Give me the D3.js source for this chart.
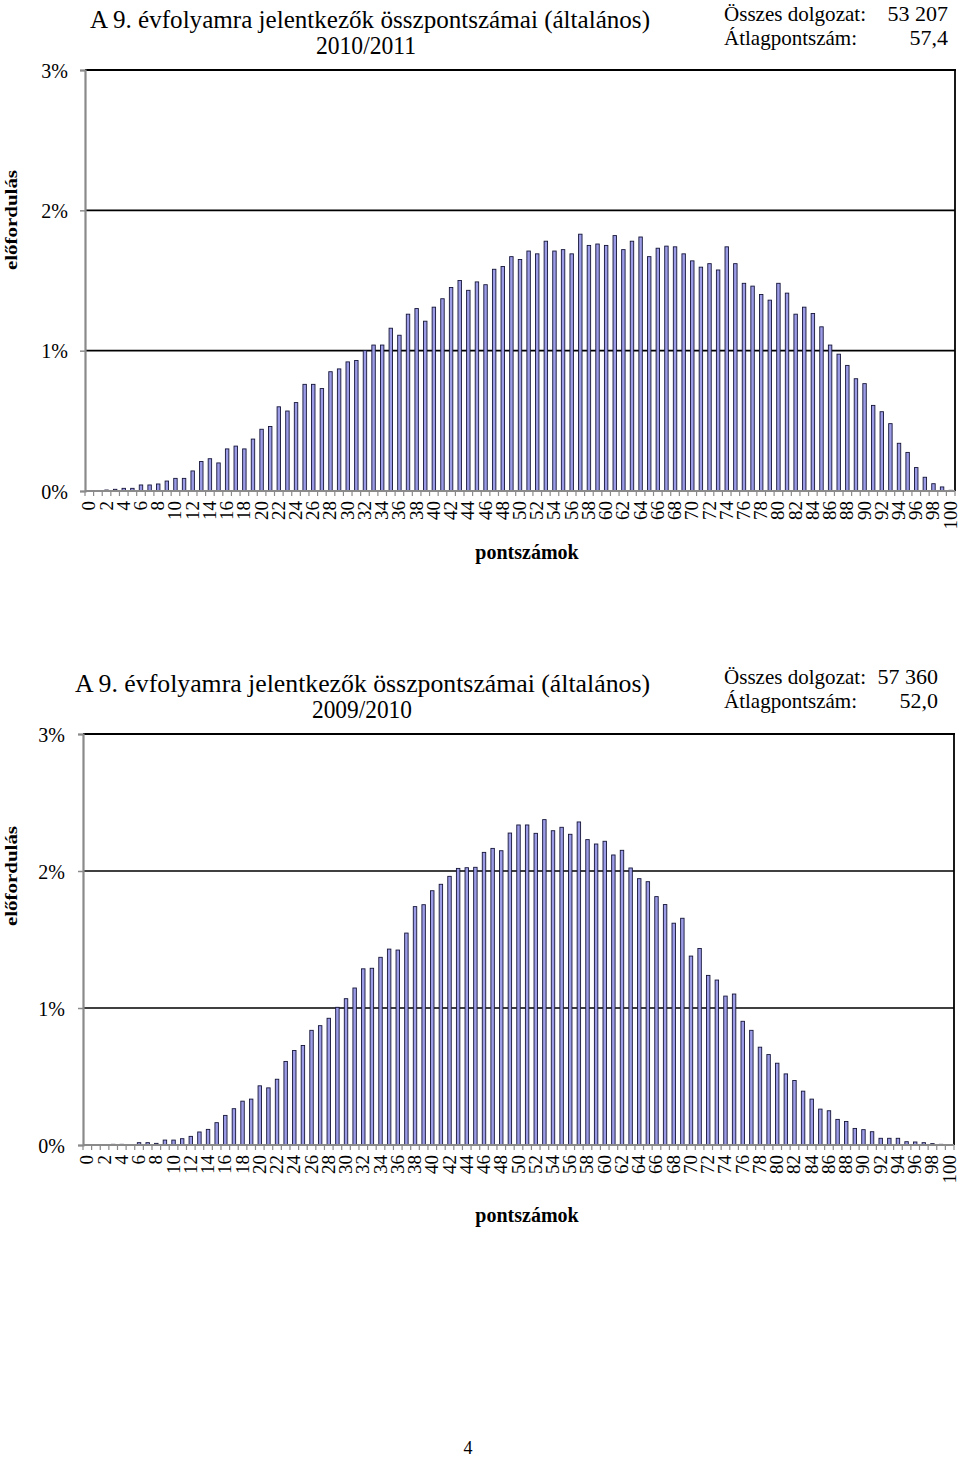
<!DOCTYPE html>
<html>
<head>
<meta charset="utf-8">
<script src="https://cdn.jsdelivr.net/npm/d3@7"></script>
<style>
  body { margin: 0; background: #fff; }
  svg text { font-family: "Liberation Serif", "Times New Roman", serif; fill: #000; }
</style>
</head>
<body>
<svg id="page" width="960" height="1458"></svg>
<script>
// ---------- DATA ----------
const categories = d3.range(0, 101);            // pontszám 0..100
const tickLabels = d3.range(0, 101, 2);         // labelled scores
const yTicks = [0, 1, 2, 3];                     // percent gridlines
const yTickLabels = ["0%", "1%", "2%", "3%"];

// 2010/2011 distribution (% of papers per score)
const values2011 = [
  0.003,0.003,0.007,0.012,0.019,0.019,0.043,0.043,0.05,0.071,
  0.09,0.09,0.143,0.21,0.23,0.20,0.30,0.32,0.30,0.37,
  0.44,0.46,0.60,0.57,0.63,0.76,0.76,0.73,0.85,0.87,
  0.92,0.93,1.00,1.04,1.04,1.16,1.11,1.26,1.30,1.21,
  1.31,1.37,1.45,1.50,1.43,1.49,1.47,1.58,1.60,1.67,
  1.65,1.71,1.69,1.78,1.71,1.72,1.69,1.83,1.75,1.76,
  1.75,1.82,1.72,1.78,1.81,1.67,1.73,1.745,1.74,1.69,
  1.64,1.595,1.62,1.575,1.74,1.62,1.48,1.46,1.40,1.36,
  1.48,1.41,1.26,1.31,1.265,1.17,1.04,0.975,0.895,0.80,
  0.765,0.61,0.565,0.48,0.34,0.275,0.167,0.098,0.052,0.029,
  0.005
];

// 2009/2010 distribution
const values2010 = [
  0.002,0.002,0.002,0.005,0.005,0.004,0.017,0.017,0.012,0.036,
  0.036,0.046,0.063,0.095,0.114,0.163,0.216,0.265,0.32,0.335,
  0.432,0.417,0.48,0.61,0.69,0.726,0.837,0.871,0.925,1.005,
  1.068,1.146,1.286,1.29,1.37,1.43,1.423,1.547,1.74,1.754,
  1.856,1.903,1.961,2.019,2.024,2.027,2.136,2.165,2.148,2.277,
  2.336,2.336,2.275,2.375,2.294,2.319,2.268,2.358,2.229,2.197,
  2.217,2.117,2.151,2.022,1.944,1.922,1.813,1.755,1.619,1.655,
  1.379,1.434,1.238,1.204,1.087,1.102,0.903,0.837,0.714,0.66,
  0.597,0.519,0.471,0.393,0.335,0.262,0.25,0.187,0.172,0.121,
  0.112,0.097,0.049,0.049,0.049,0.024,0.022,0.017,0.01,0.005,
  0.002
];

const titleLine1 = "A 9. évfolyamra jelentkezők összpontszámai (általános)";
const yearLabels = ["2010/2011", "2009/2010"];
const statLabels = ["Összes dolgozat:", "Átlagpontszám:"];
const stats2011 = ["53 207", "57,4"];
const stats2010 = ["57 360", "52,0"];
const xTitle = "pontszámok";
const yTitle = "előfordulás";
const pageNumber = "4";

// ---------- DRAW ----------
const svg = d3.select("#page");

function drawChart(opt) {
  const g = svg.append("g");
  const x = d3.scaleBand().domain(categories)
    .range([opt.left, opt.right]).paddingInner(0.6).paddingOuter(0.3);
  const y = d3.scaleLinear().domain([0, 3]).range([opt.bottom, opt.top]);
  const step = x.step();

  // titles
  g.append("text").attr("x", opt.titleX).attr("y", opt.titleY)
    .attr("font-size", 25).attr("textLength", opt.titleW).attr("lengthAdjust", "spacingAndGlyphs")
    .text(titleLine1);
  g.append("text").attr("x", opt.yearX).attr("y", opt.titleY + 26)
    .attr("font-size", 25).attr("text-anchor", "middle")
    .attr("textLength", 100).attr("lengthAdjust", "spacingAndGlyphs")
    .text(opt.year);

  // stats
  statLabels.forEach((s, i) => {
    g.append("text").attr("x", 724).attr("y", opt.statY + i * 24)
      .attr("font-size", 22).attr("textLength", i === 0 ? 142 : 133).attr("lengthAdjust", "spacingAndGlyphs")
      .text(s);
    g.append("text").attr("x", opt.statRight).attr("y", opt.statY + i * 24)
      .attr("font-size", 22).attr("text-anchor", "end")
      .text(opt.stats[i]);
  });

  // gridlines (1%, 2%)
  g.selectAll(".grid").data(yTicks.filter(d => d > 0 && d < 3)).enter().append("line")
    .attr("x1", opt.left).attr("x2", opt.right)
    .attr("y1", d => y(d)).attr("y2", d => y(d))
    .attr("stroke", "#000").attr("stroke-width", 1.6);
  // top border (3%) and right border
  g.append("line").attr("x1", opt.left).attr("x2", opt.right + 1)
    .attr("y1", y(3)).attr("y2", y(3)).attr("stroke", "#000").attr("stroke-width", 2.2);
  g.append("line").attr("x1", opt.right).attr("x2", opt.right)
    .attr("y1", y(3)).attr("y2", y(0)).attr("stroke", "#000").attr("stroke-width", 1.8);

  // bars
  g.selectAll(".bar").data(categories).enter().append("rect")
    .attr("x", d => x(d))
    .attr("y", d => y(opt.values[d]))
    .attr("width", x.bandwidth())
    .attr("height", d => y(0) - y(opt.values[d]))
    .attr("fill", "#9c9ce6")
    .attr("stroke", "#15153a").attr("stroke-width", 0.9);

  // y axis
  const yAxis = d3.axisLeft(y).tickValues(yTicks).tickSize(5)
    .tickFormat((d, i) => yTickLabels[i]);
  const ya = g.append("g").attr("transform", `translate(${opt.left},0)`).call(yAxis);
  ya.select(".domain").attr("stroke", "#8a8a8a").attr("stroke-width", 2.2);
  ya.selectAll(".tick line").attr("stroke", "#8a8a8a").attr("stroke-width", 1.5);
  ya.selectAll(".tick text").attr("font-family", "Liberation Serif, serif")
    .attr("font-size", 20).attr("x", -(opt.left - opt.yLabelRight)).attr("dy", "0.35em");

  // x axis (domain + a tick at every band boundary)
  g.append("line").attr("x1", opt.left).attr("x2", opt.right)
    .attr("y1", y(0)).attr("y2", y(0)).attr("stroke", "#8a8a8a").attr("stroke-width", 2.2);
  g.selectAll(".xt").data(d3.range(0, categories.length + 1)).enter().append("line")
    .attr("x1", k => opt.left + k * step).attr("x2", k => opt.left + k * step)
    .attr("y1", y(0)).attr("y2", y(0) + 5)
    .attr("stroke", "#8a8a8a").attr("stroke-width", 1.2);
  g.selectAll(".xl").data(tickLabels).enter().append("text")
    .attr("transform", d => `translate(${x(d) + x.bandwidth() / 2 + 6},${y(0) + 10}) rotate(-90)`)
    .attr("text-anchor", "end").attr("font-size", 19)
    .text(d => d);

  // axis titles
  g.append("text").attr("x", opt.xTitleX).attr("y", opt.xTitleY)
    .attr("text-anchor", "middle").attr("font-size", 20).attr("font-weight", "bold")
    .text(xTitle);
  g.append("text").attr("transform", `translate(17,${opt.yTitleY}) rotate(-90)`)
    .attr("text-anchor", "middle").attr("font-size", 17).attr("font-weight", "bold")
    .attr("textLength", 100).attr("lengthAdjust", "spacingAndGlyphs")
    .text(yTitle);
}

drawChart({
  left: 85, right: 955, top: 70, bottom: 491,
  values: values2011, year: yearLabels[0], stats: stats2011,
  titleX: 90, titleW: 560, titleY: 28, yearX: 366,
  statY: 21, statRight: 948, yLabelRight: 68,
  xTitleX: 527, xTitleY: 559, yTitleY: 220
});

drawChart({
  left: 83, right: 954, top: 734, bottom: 1145,
  values: values2010, year: yearLabels[1], stats: stats2010,
  titleX: 75, titleW: 575, titleY: 692, yearX: 362,
  statY: 684, statRight: 938, yLabelRight: 65,
  xTitleX: 527, xTitleY: 1222, yTitleY: 876
});

svg.append("text").attr("x", 468).attr("y", 1454).attr("text-anchor", "middle")
  .attr("font-size", 18).text(pageNumber);
</script>
</body>
</html>
